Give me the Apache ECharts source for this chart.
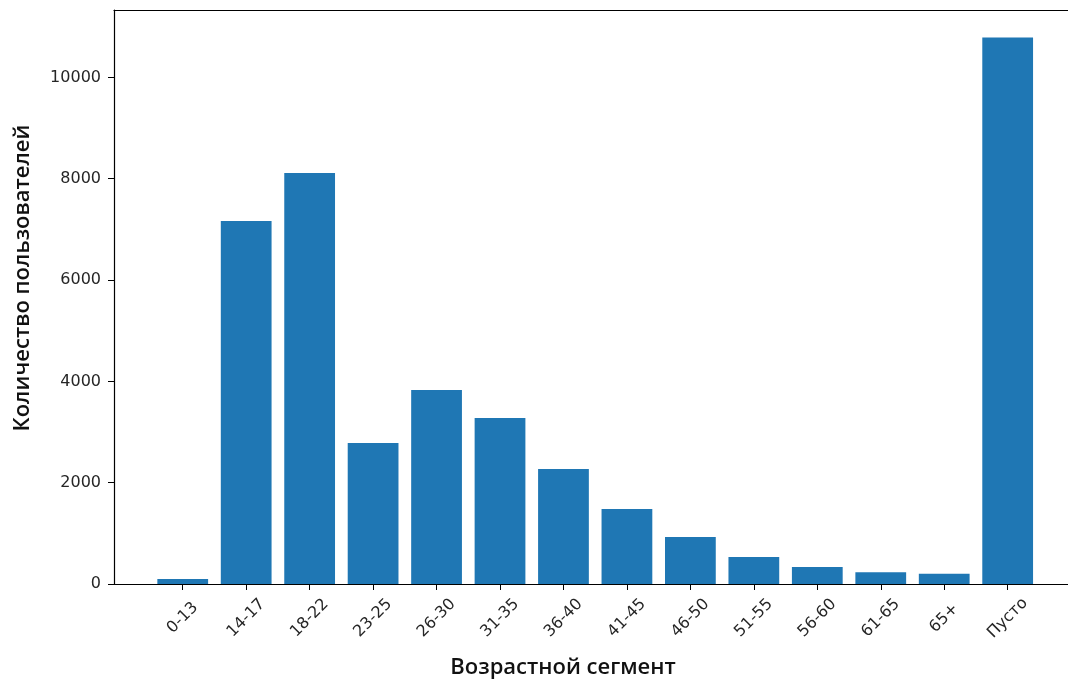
<!DOCTYPE html>
<html><head><meta charset="utf-8">
<script src="https://cdn.jsdelivr.net/npm/echarts@6/dist/echarts.min.js"></script>
<style>html,body{margin:0;padding:0;background:#fff}#c{width:1068px;height:684px}</style>
</head><body><div id="c"></div>
<script>
const categories = ['0-13','14-17','18-22','23-25','26-30','31-35','36-40','41-45','46-50','51-55','56-60','61-65','65+','Пусто'];
const userCounts = [99,7164,8111,2783,3829,3276,2270,1480,928,533,335,231,203,10789];
const yTicks = [0,2000,4000,6000,8000,10000];
const xTitle = 'Возрастной сегмент';
const yTitle = 'Количество пользователей';

const YMAX = 11330;
const chart = echarts.init(document.getElementById('c'));
const tickFont = {fontFamily:'DejaVu Sans', fontSize:16, color:'#262626'};
const titleFont = {fontFamily:'Open Sans', fontWeight:600, fontSize:22, color:'#111'};
const hiddenAxis = {axisLine:{show:false}, axisTick:{show:false}, axisLabel:{show:false}, splitLine:{show:false}};
chart.setOption({
  animation:false,
  grid:[
    {left:114, top:10, bottom:100, width:1025},
    {left:151, top:10, bottom:100, width:888.4},
    {left:114, top:10, bottom:100, width:898},
    {left:114, top:10, bottom:138, width:898}
  ],
  xAxis:[
    {gridIndex:0, type:'value', min:0, max:1, position:'bottom',
     axisLine:{show:true, lineStyle:{color:'#000', width:1.2}}, axisTick:{show:false}, axisLabel:{show:false}, splitLine:{show:false}},
    {gridIndex:0, type:'value', min:0, max:1, position:'top',
     axisLine:{show:true, lineStyle:{color:'#000', width:1.2}}, axisTick:{show:false}, axisLabel:{show:false}, splitLine:{show:false}},
    {gridIndex:1, type:'category', data:categories, boundaryGap:true,
     axisLine:{show:false}, axisTick:{show:true, alignWithLabel:true, length:6, lineStyle:{color:'#000'}},
     axisLabel:Object.assign({rotate:45, margin:34, interval:0, align:'center', verticalAlign:'middle'}, tickFont)},
    Object.assign({gridIndex:2, type:'value', min:0, max:1,
     name:xTitle, nameLocation:'middle', nameGap:75, nameTextStyle:titleFont}, hiddenAxis),
    Object.assign({gridIndex:3, type:'value', min:0, max:1}, hiddenAxis)
  ],
  yAxis:[
    {gridIndex:0, type:'value', min:0, max:YMAX, interval:2000,
     axisLine:{show:true, lineStyle:{color:'#000', width:1.2}},
     axisTick:{show:true, length:6, lineStyle:{color:'#000'}, customValues:yTicks},
     axisLabel:Object.assign({margin:13, customValues:yTicks, formatter:v=> yTicks.includes(v)? String(v):''}, tickFont),
     splitLine:{show:false}},
    {gridIndex:1, type:'value', min:0, max:YMAX, show:false},
    Object.assign({gridIndex:2, type:'value', min:0, max:1}, hiddenAxis),
    Object.assign({gridIndex:3, type:'value', min:0, max:1,
     name:yTitle, nameLocation:'middle', nameGap:80, nameTextStyle:titleFont}, hiddenAxis)
  ],
  series:[{
    type:'bar', xAxisIndex:2, yAxisIndex:1, data:userCounts, barWidth:'80%',
    itemStyle:{color:'#1f77b4'}
  }]
});
</script></body></html>
